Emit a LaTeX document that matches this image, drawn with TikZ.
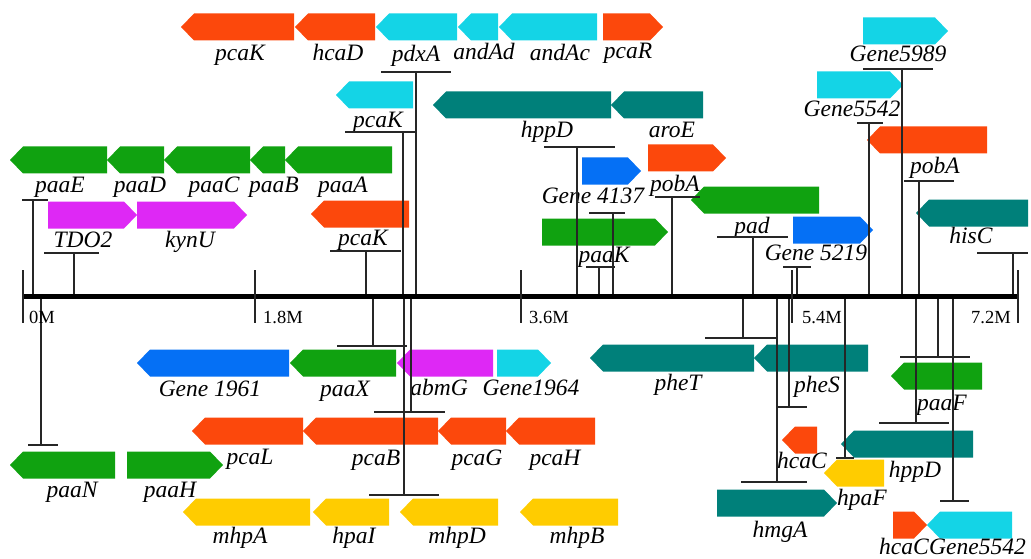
\documentclass[tikz,border=0pt]{standalone}
\usepackage{fontspec}
\setmainfont{Liberation Serif}
\definecolor{org}{RGB}{252,72,12}
\definecolor{cyn}{RGB}{20,212,230}
\definecolor{tea}{RGB}{0,128,122}
\definecolor{grn}{RGB}{16,162,16}
\definecolor{mag}{RGB}{222,40,245}
\definecolor{blu}{RGB}{5,112,245}
\definecolor{yel}{RGB}{255,204,0}
\newcommand\geneL[4]{\fill[#4] (#1,#3) -- ({#1+13},{#3-13.5}) -- (#2,{#3-13.5}) -- (#2,{#3+13.5}) -- ({#1+13},{#3+13.5}) -- cycle;}
\newcommand\geneR[4]{\fill[#4] (#2,#3) -- ({#2-13},{#3-13.5}) -- (#1,{#3-13.5}) -- (#1,{#3+13.5}) -- ({#2-13},{#3+13.5}) -- cycle;}
% stem at x=#1 from axis to y=#2, bar from #3 to #4
\newcommand\tmark[4]{\draw[stem] (#1,296) -- (#1,#2); \draw[stem] (#3,#2) -- (#4,#2);}
\begin{document}
\begin{tikzpicture}[x=1pt,y=-1pt,
  lab/.style={font=\fontsize{23.5}{25}\selectfont\itshape, anchor=base, inner sep=0pt},
  ticklab/.style={font=\fontsize{18.5}{20}\selectfont, anchor=base west, inner sep=0pt},
  stem/.style={line width=1.3pt, black!85},
  axisline/.style={line width=5pt, black}]
\useasboundingbox (0,0) rectangle (1031,559);
% ---- genes ----
\geneL{181}{294}{27}{org}
\geneL{295}{375}{27}{org}
\geneL{376}{457}{27}{cyn}
\geneL{458}{498}{27}{cyn}
\geneL{499}{597}{27}{cyn}
\geneR{603}{663}{27}{org}
\geneL{336}{413}{95}{cyn}
\geneL{433}{611}{105}{tea}
\geneL{611}{703}{105}{tea}
\geneR{863}{948}{31}{cyn}
\geneR{817}{903}{85}{cyn}
\geneL{867}{987}{140}{org}
\geneL{10}{107}{160}{grn}
\geneL{107}{164}{160}{grn}
\geneL{164}{250}{160}{grn}
\geneL{250}{285}{160}{grn}
\geneL{285}{392}{160}{grn}
\geneR{582}{641}{171}{blu}
\geneR{648}{726}{158}{org}
\geneR{48}{137}{215}{mag}
\geneR{137}{247}{215}{mag}
\geneL{311}{409}{214}{org}
\geneR{542}{668}{232}{grn}
\geneL{691}{819}{200}{grn}
\geneR{793}{873}{230}{blu}
\geneL{916}{1028}{213}{tea}
\geneL{137}{289}{363}{blu}
\geneL{290}{396}{363}{grn}
\geneL{397}{493}{363}{mag}
\geneR{497}{551}{363}{cyn}
\geneL{590}{754}{358}{tea}
\geneL{754}{868}{358}{tea}
\geneL{192}{303}{431}{org}
\geneL{303}{438}{431}{org}
\geneL{438}{506}{431}{org}
\geneL{506}{595}{431}{org}
\geneL{10}{115}{465}{grn}
\geneR{127}{223}{465}{grn}
\geneL{183}{310}{512}{yel}
\geneL{313}{389}{512}{yel}
\geneL{400}{498}{512}{yel}
\geneL{520}{618}{512}{yel}
\geneL{891}{982}{376}{grn}
\geneL{782}{817}{440}{org}
\geneL{841}{973}{444}{tea}
\geneL{824}{884}{473}{yel}
\geneR{717}{837}{503}{tea}
\geneR{893}{927}{525}{org}
\geneL{927}{1012}{525}{cyn}
% ---- labels ----
\node[lab] (l1) at (240,61) {pcaK};
\node[lab] (l2) at (338,61) {hcaD};
\node[lab] (l3) at (416,62) {pdxA};
\node[lab] (l4) at (484,60) {andAd};
\node[lab] (l5) at (560,61) {andAc};
\node[lab] (l6) at (628,59) {pcaR};
\node[lab] (l7) at (378,128) {pcaK};
\node[lab] (l8) at (547,138) {hppD};
\node[lab] (l9) at (672,138) {aroE};
\node[lab] (l10) at (898,62) {Gene5989};
\node[lab] (l11) at (852,117) {Gene5542};
\node[lab] (l12) at (935,173) {pobA};
\node[lab] (l13) at (60,193) {paaE};
\node[lab] (l14) at (140,193) {paaD};
\node[lab] (l15) at (214,193) {paaC};
\node[lab] (l16) at (274,193) {paaB};
\node[lab] (l17) at (343,193) {paaA};
\node[lab] (l18) at (593,203) {Gene 4137};
\node[lab] (l19) at (675,192) {pobA};
\node[lab] (l20) at (83,247) {TDO2};
\node[lab] (l21) at (190,247) {kynU};
\node[lab] (l22) at (363,245) {pcaK};
\node[lab] (l23) at (604,262) {paaK};
\node[lab] (l24) at (752,233) {pad};
\node[lab] (l25) at (816,260) {Gene 5219};
\node[lab] (l26) at (971,243) {hisC};
\node[lab] (l27) at (210,396) {Gene 1961};
\node[lab] (l28) at (345,396) {paaX};
\node[lab] (l29) at (439,395) {abmG};
\node[lab] (l30) at (531,395) {Gene1964};
\node[lab] (l31) at (678,390) {pheT};
\node[lab] (l32) at (817,392) {pheS};
\node[lab] (l33) at (250,464) {pcaL};
\node[lab] (l34) at (376,465) {pcaB};
\node[lab] (l35) at (477,465) {pcaG};
\node[lab] (l36) at (555,465) {pcaH};
\node[lab] (l37) at (72,497) {paaN};
\node[lab] (l38) at (170,497) {paaH};
\node[lab] (l39) at (240,543) {mhpA};
\node[lab] (l40) at (354,543) {hpaI};
\node[lab] (l41) at (457,543) {mhpD};
\node[lab] (l42) at (577,543) {mhpB};
\node[lab] (l43) at (942,410) {paaF};
\node[lab] (l44) at (802,468) {hcaC};
\node[lab] (l45) at (915,477) {hppD};
\node[lab] (l46) at (862,505) {hpaF};
\node[lab] (l47) at (780,537) {hmgA};
\node[lab, anchor=base east] (l48) at (929,554) {hcaC};
\node[lab, anchor=base west] (l49) at (929,554) {Gene5542};
% ---- markers above axis ----
\tmark{33}{200}{22}{48}
\tmark{74}{253}{44}{99}
\tmark{366}{251}{330}{401}
\tmark{403}{132}{345}{415}
\tmark{416}{72}{381}{451}
\tmark{577}{147}{544}{615}
\tmark{613}{213}{589}{625}
\tmark{599}{267}{586}{615}
\tmark{672}{197}{655}{700}
\tmark{753}{237}{717}{788}
\tmark{797}{267}{783}{811}
\tmark{869}{123}{857}{883}
\tmark{902}{69}{863}{933}
\tmark{919}{181}{904}{954}
\tmark{1013}{253}{977}{1028}
% ---- markers below axis ----
\tmark{41}{445}{28}{58}
\tmark{373}{346}{337}{407}
\tmark{411}{412}{374}{445}
\tmark{404}{495}{369}{439}
\tmark{743}{338}{705}{777}
\tmark{789}{407}{777}{807}
\tmark{777}{482}{741}{807}
\tmark{845}{458}{836}{854}
\tmark{938}{357}{900}{970}
\tmark{916}{423}{879}{949}
\tmark{953}{501}{940}{969}
% ---- axis ----
\coordinate (a0) at (23,296);
\coordinate (a1) at (1018,296);
\draw[axisline] (a0) -- (a1);
\foreach \x in {23,255,521,792,1018} {\draw[stem] (\x,270) -- (\x,323);}
\node[ticklab] (t0) at (29,323) {0M};
\node[ticklab] (t1) at (263,323) {1.8M};
\node[ticklab] (t2) at (529,323) {3.6M};
\node[ticklab] (t3) at (802,323) {5.4M};
\node[ticklab, anchor=base east] (t4) at (1011,323) {7.2M};
\end{tikzpicture}
\end{document}
